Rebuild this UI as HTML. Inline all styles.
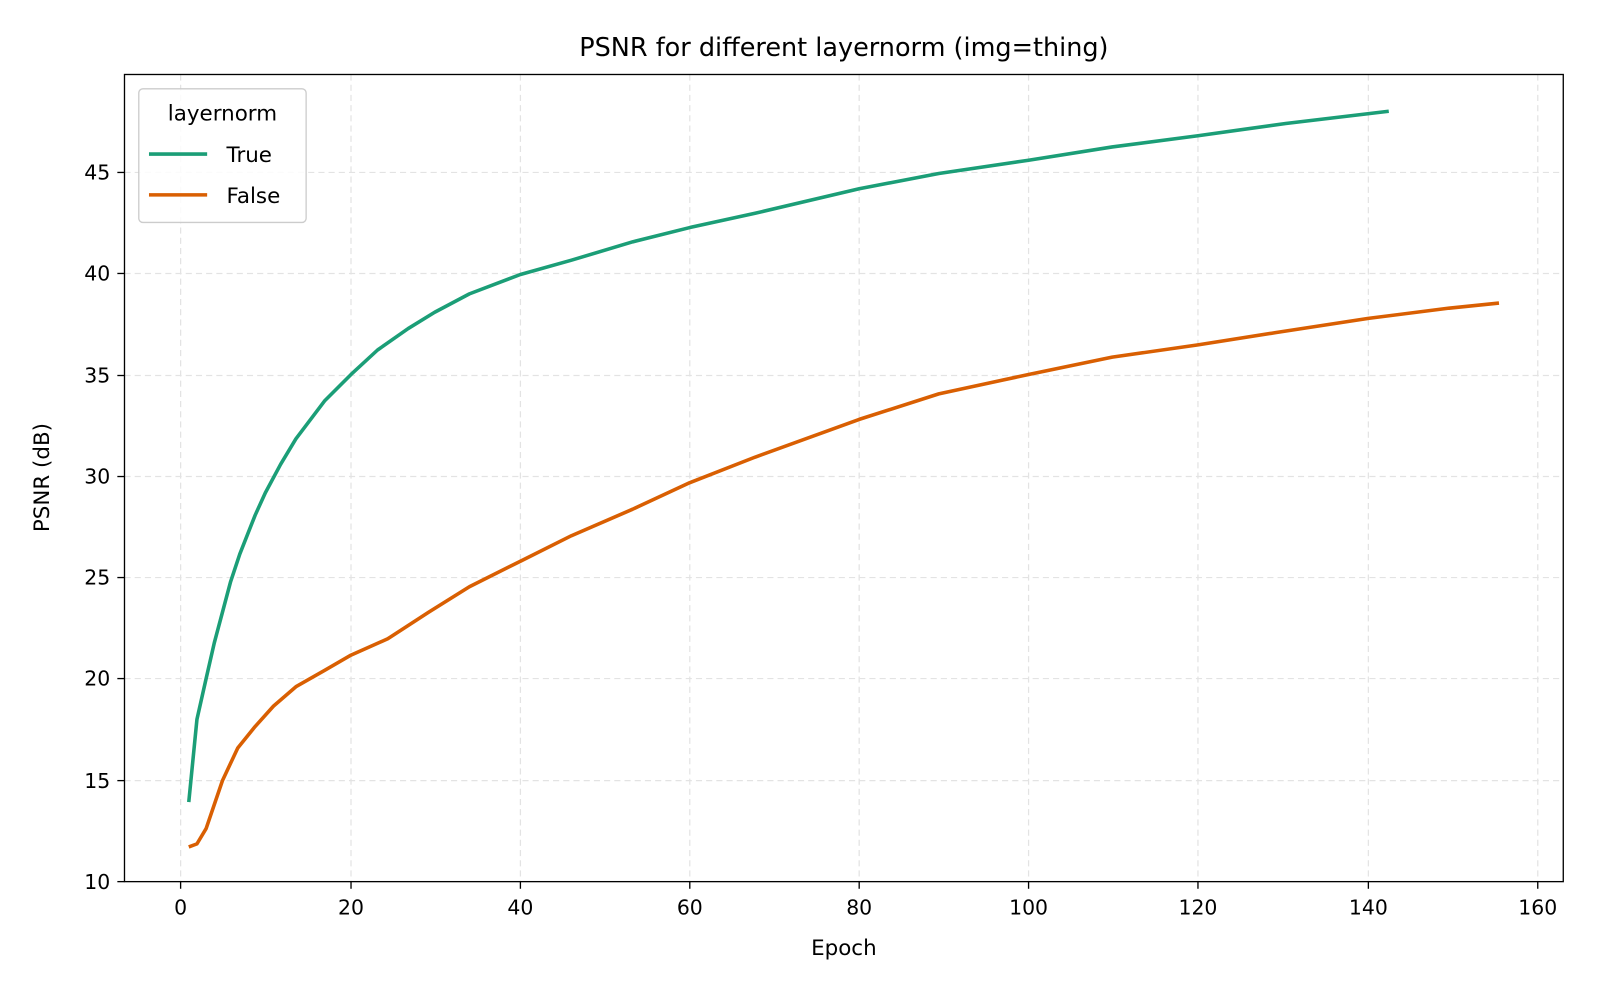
<!DOCTYPE html>
<html><head><meta charset="utf-8"><style>
html,body{margin:0;padding:0;background:#fff;}
svg{display:block;font-family:"DejaVu Sans","Liberation Sans",sans-serif;}
</style></head><body>
<svg width="1600" height="1000" viewBox="0 0 1568 980" preserveAspectRatio="none" xmlns="http://www.w3.org/2000/svg">
<rect width="1568" height="980" fill="#fff"/>
<g stroke="#e3e3e3" stroke-width="1.2" stroke-dasharray="6,4">
<line x1="177" y1="73" x2="177" y2="864"/><line x1="344" y1="73" x2="344" y2="864"/>
<line x1="510" y1="73" x2="510" y2="864"/><line x1="676" y1="73" x2="676" y2="864"/>
<line x1="842" y1="73" x2="842" y2="864"/><line x1="1008" y1="73" x2="1008" y2="864"/>
<line x1="1174" y1="73" x2="1174" y2="864"/><line x1="1341" y1="73" x2="1341" y2="864"/>
<line x1="1507" y1="73" x2="1507" y2="864"/>
<line x1="122" y1="765" x2="1532" y2="765"/><line x1="122" y1="665" x2="1532" y2="665"/>
<line x1="122" y1="566" x2="1532" y2="566"/><line x1="122" y1="467" x2="1532" y2="467"/>
<line x1="122" y1="368" x2="1532" y2="368"/><line x1="122" y1="268" x2="1532" y2="268"/>
<line x1="122" y1="169" x2="1532" y2="169"/>
</g>
<polyline fill="none" stroke="#1b9e77" stroke-width="3.5" stroke-linejoin="round" points="185,786 193,705 202,665 210,630 218,600 226,570 235,543 250,505 260,483 275,455 290,430 318,393 344,367 370,343 400,322 426,306 460,288 510,269 560,255 620,237 676,223 740,209 842,185 920,170 1008,157 1090,144 1174,133 1260,121 1361,109"/>
<polyline fill="none" stroke="#d95f02" stroke-width="3.5" stroke-linejoin="round" points="185,830 193,827 202,812 218,765 233,733 250,712 268,692 290,673 318,657 344,642 380,626 420,600 460,575 510,550 560,525 620,499 676,473 740,448 842,411 920,386 1008,367 1090,350 1174,338 1250,326 1341,312 1420,302 1469,297"/>
<rect x="122" y="73" width="1410" height="791" fill="none" stroke="#000" stroke-width="1.3"/>
<g stroke="#000" stroke-width="1.3">
<line x1="177" y1="864" x2="177" y2="871"/><line x1="344" y1="864" x2="344" y2="871"/>
<line x1="510" y1="864" x2="510" y2="871"/><line x1="676" y1="864" x2="676" y2="871"/>
<line x1="842" y1="864" x2="842" y2="871"/><line x1="1008" y1="864" x2="1008" y2="871"/>
<line x1="1174" y1="864" x2="1174" y2="871"/><line x1="1341" y1="864" x2="1341" y2="871"/>
<line x1="1507" y1="864" x2="1507" y2="871"/>
<line x1="115" y1="864" x2="122" y2="864"/><line x1="115" y1="765" x2="122" y2="765"/>
<line x1="115" y1="665" x2="122" y2="665"/><line x1="115" y1="566" x2="122" y2="566"/>
<line x1="115" y1="467" x2="122" y2="467"/><line x1="115" y1="368" x2="122" y2="368"/>
<line x1="115" y1="268" x2="122" y2="268"/><line x1="115" y1="169" x2="122" y2="169"/>
</g>
<g font-size="20" fill="#000" text-anchor="middle">
<text x="177" y="896">0</text><text x="344" y="896">20</text><text x="510" y="896">40</text>
<text x="676" y="896">60</text><text x="842" y="896">80</text><text x="1008" y="896">100</text>
<text x="1174" y="896">120</text><text x="1341" y="896">140</text><text x="1507" y="896">160</text>
</g>
<g font-size="20" fill="#000" text-anchor="end">
<text x="108" y="871">10</text><text x="108" y="772">15</text><text x="108" y="672">20</text>
<text x="108" y="573">25</text><text x="108" y="474">30</text><text x="108" y="375">35</text>
<text x="108" y="275">40</text><text x="108" y="176">45</text>
</g>
<text x="827" y="936" font-size="21" text-anchor="middle">Epoch</text>
<text transform="translate(48,468) rotate(-90)" font-size="21" text-anchor="middle">PSNR (dB)</text>
<text x="827" y="55" font-size="25" text-anchor="middle">PSNR for different layernorm (img=thing)</text>
<rect x="136" y="87" width="164" height="131" rx="4" fill="#fff" fill-opacity="0.85" stroke="#ccc" stroke-width="1.3"/>
<text x="218" y="118" font-size="21" text-anchor="middle">layernorm</text>
<line x1="146" y1="151" x2="203" y2="151" stroke="#1b9e77" stroke-width="3.5"/>
<text x="222" y="159" font-size="21">True</text>
<line x1="146" y1="191" x2="203" y2="191" stroke="#d95f02" stroke-width="3.5"/>
<text x="222" y="199" font-size="21">False</text>
</svg>
</body></html>
